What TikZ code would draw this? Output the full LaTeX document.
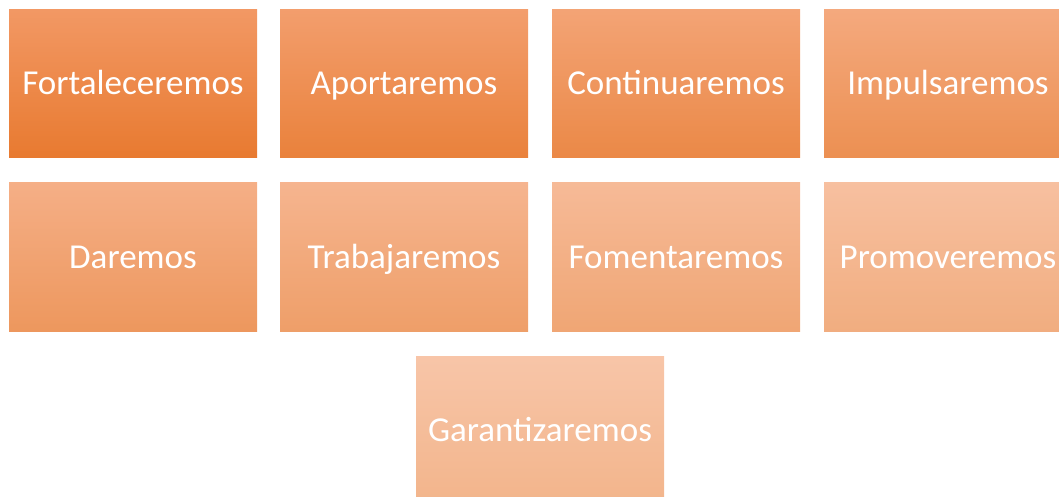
\documentclass[tikz,border=0pt]{standalone}
\usepackage{fontspec}
\setmainfont{Carlito}
\definecolor{otop}{RGB}{242,152,100}
\definecolor{obot}{RGB}{232,122,48}
\tikzset{
  box/.style={rectangle, draw=none, inner sep=0pt, minimum width=248pt, minimum height=148pt,
    top color=otop!#1!white, bottom color=obot!#1!white,
    text=white, font=\fontsize{35}{42}\selectfont, text height=22pt, text depth=0pt}
}
\begin{document}
\begin{tikzpicture}[x=1pt,y=-1pt]
\useasboundingbox (0,0) rectangle (1059,497);
\clip (0,0) rectangle (1059,497);
\node[box=100]  (b1) at (133,84)  {Fortaleceremos};
\node[box=94.5] (b2) at (404,84)  {Aportaremos};
\node[box=89]   (b3) at (676,84)  {Continuaremos};
\node[box=83.5] (b4) at (948,84)  {Impulsaremos};
\node[box=78]   (b5) at (133,257) {Daremos};
\node[box=72.5] (b6) at (404,257) {Trabajaremos};
\node[box=67]   (b7) at (676,257) {Fomentaremos};
\node[box=61.5] (b8) at (948,257) {Promoveremos};
\node[box=56]   (b9) at (540,430) {Garantizaremos};
\end{tikzpicture}
\end{document}
